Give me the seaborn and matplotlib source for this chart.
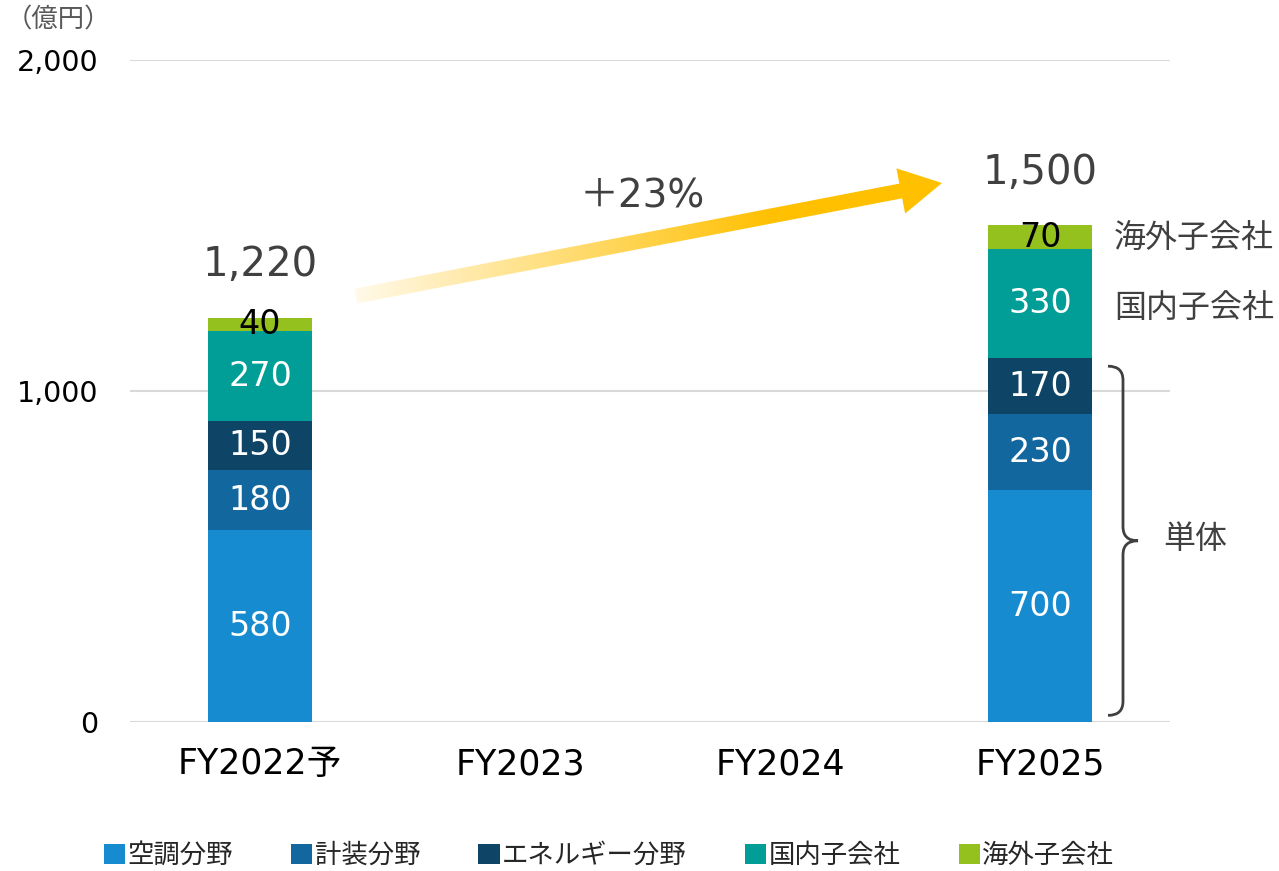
import numpy as np
import pandas as pd
import matplotlib
matplotlib.use("Agg")
import matplotlib.pyplot as plt
import seaborn as sns
from matplotlib.path import Path
from matplotlib.patches import PathPatch, Polygon, Patch

# Data
categories = ["FY2022予", "FY2023", "FY2024", "FY2025"]
segments = ["空調分野", "計装分野", "エネルギー分野", "国内子会社", "海外子会社"]
aircon = [580, 0, 0, 700]
instrument = [180, 0, 0, 230]
energy = [150, 0, 0, 170]
domestic = [270, 0, 0, 330]
overseas = [40, 0, 0, 70]
totals = ["1,220", "", "", "1,500"]
colors = ["#178BD0", "#13679F", "#0E4566", "#009E96", "#95C11F"]
label_colors = ["white", "white", "white", "white", "black"]

sns.set_theme(style="white")
plt.rcParams["font.family"] = ["DejaVu Sans", "Noto Sans CJK JP"]

W, H = 1279, 871
fig = plt.figure(figsize=(W / 100, H / 100), dpi=100)
ax = fig.add_axes([130 / W, 149 / H, 1040 / W, 662 / H])

df = pd.DataFrame({"cat": categories, "空調分野": aircon, "計装分野": instrument,
                   "エネルギー分野": energy, "国内子会社": domestic, "海外子会社": overseas})
cum = df[segments].cumsum(axis=1)

# draw tallest cumulative first, then smaller on top
for seg, col in reversed(list(zip(segments, colors))):
    sns.barplot(x=df["cat"], y=cum[seg], color=col, width=0.4, order=categories,
                errorbar=None, linewidth=0, saturation=1, ax=ax)

ax.set_xlim(-0.5, 3.5)
ax.set_ylim(0, 2000)
ax.set_yticks([0, 1000, 2000])
ax.set_yticklabels(["0", "1,000", "2,000"], fontsize=20.5, color="black")
ax.set_xticks(range(4))
ax.set_xticklabels(categories, fontsize=25, color="black")
ax.tick_params(axis="both", length=0)
ax.tick_params(axis="y", pad=23)
ax.tick_params(axis="x", pad=18)
ax.set_xlabel("")
ax.set_ylabel("")
ax.grid(axis="y", color="#D9D9D9", linewidth=1.5)
ax.set_axisbelow(True)
for s in ax.spines.values():
    s.set_visible(False)

# segment labels
for i in range(len(categories)):
    bottom = 0
    for seg, lc in zip(segments, label_colors):
        v = df[seg][i]
        if v > 0:
            ax.text(i, bottom + v / 2, str(v), ha="center", va="center",
                    fontsize=24, color=lc)
        bottom += v
    if totals[i]:
        ax.text(i, bottom + 160, totals[i], ha="center", va="center",
                fontsize=29, color="#404040")

# right side labels
ax.text(3.285, cum["海外子会社"][3] - overseas[3] / 2 - 5, "海外子会社", ha="left", va="center",
        fontsize=23, color="#404040")
ax.text(3.285, cum["国内子会社"][3] - domestic[3] / 2 - 15, "国内子会社", ha="left", va="center",
        fontsize=23, color="#404040")
solo = cum["エネルギー分野"][3]
ax.text(3.475, solo / 2, "単体", ha="left", va="center", fontsize=23, color="#404040")

# overlay in pixel coordinates (top-left origin)
ov = fig.add_axes([0, 0, 1, 1], zorder=5)
ov.set_xlim(0, W)
ov.set_ylim(H, 0)
ov.axis("off")

def to_px(x, y):
    dx, dy = ax.transData.transform((x, y))
    return dx, H - dy

# brace
_, ytop = to_px(3, solo - 25)
_, ybot = to_px(3, 20)
ymid = (ytop + ybot) / 2
x0, xv, xt, r = 1108, 1123, 1138, 14
verts = [(x0, ytop), (xv, ytop), (xv, ytop + r), (xv, ymid - r), (xv, ymid), (xt, ymid),
         (xv, ymid), (xv, ymid + r), (xv, ybot - r), (xv, ybot), (x0, ybot)]
codes = [Path.MOVETO, Path.CURVE3, Path.CURVE3, Path.LINETO, Path.CURVE3, Path.CURVE3,
         Path.CURVE3, Path.CURVE3, Path.LINETO, Path.CURVE3, Path.CURVE3]
ov.add_patch(PathPatch(Path(verts, codes), fill=False, edgecolor="#404040", lw=2))

# gradient arrow
tail = np.array([356.0, 296.0])
tip = np.array([942.0, 183.0])
u = (tip - tail) / np.linalg.norm(tip - tail)
n = np.array([u[1], -u[0]])
shaft_w, head_w, head_l = 15, 46, 42
hb = tip - u * head_l
pts = [tail + n * shaft_w / 2, hb + n * shaft_w / 2, hb + n * head_w / 2, tip,
       hb - n * head_w / 2, hb - n * shaft_w / 2, tail - n * shaft_w / 2]
poly = Polygon(pts, closed=True, facecolor="none", edgecolor="none")
ov.add_patch(poly)
gx = np.linspace(0, 1, 400)
alpha = np.clip(0.08 + gx * 1.3, 0, 1)
img = np.zeros((2, 400, 4))
img[..., 0] = 1.0
img[..., 1] = 0xC0 / 255
img[..., 3] = alpha
im = ov.imshow(img, extent=[350, 948, 320, 160], aspect="auto", interpolation="bilinear")
im.set_clip_path(poly)
ov.set_xlim(0, W)
ov.set_ylim(H, 0)

ov.text(642, 196, "＋23%", ha="center", va="center", fontsize=28, color="#404040")
ov.text(6, 20, "（億円）", ha="left", va="center", fontsize=19, color="#595959")

# legend
handles = [Patch(facecolor=c, edgecolor="none") for c in colors]
fig.legend(handles, segments, loc="center", bbox_to_anchor=(609 / W, 1 - 856 / H),
           ncol=5, frameon=False, fontsize=19, handlelength=0.8, handleheight=0.8,
           handletextpad=0.1, columnspacing=2.2)

fig.savefig("out.png", dpi=100)
